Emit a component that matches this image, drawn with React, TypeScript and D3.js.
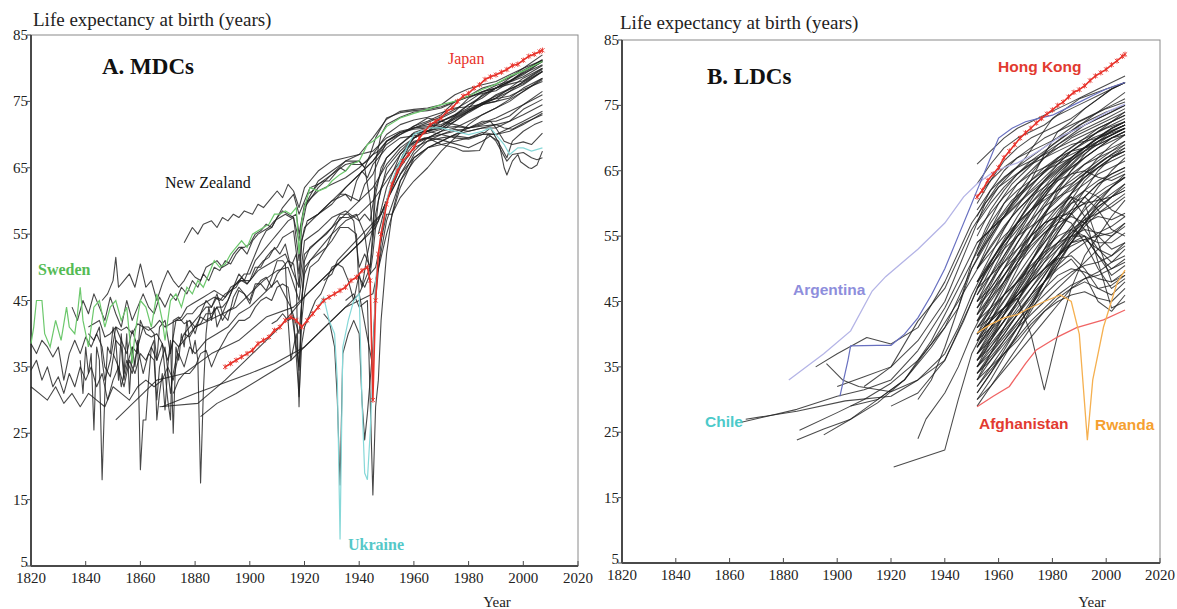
import React from 'react';
import * as d3 from 'd3';

type Pt = [number, number];

// ---------- Panel A: more developed countries (year, life expectancy) ----------
const sweden: Pt[] = [[1820,38.5],[1821,41],[1822,45],[1824,45],[1825,40],[1827,38],[1829,42],[1831,39],[1833,44],[1834,41],[1836,40],[1837,43],[1838,47],[1839,42],[1841,38],[1843,44],[1845,45],[1847,41],[1849,44],[1851,45],[1853,42],[1855,44],[1857,35.5],[1858,40],[1860,45],[1862,44],[1864,41],[1866,46],[1868,42],[1869,39],[1871,45],[1873,46],[1875,44],[1877,47],[1879,46],[1881,48],[1883,47],[1885,49],[1887,51],[1889,50],[1891,50.5],[1893,52],[1895,53],[1897,54],[1899,53],[1901,55],[1903,55.5],[1905,56],[1907,56.5],[1909,58],[1911,58],[1913,58.5],[1915,58],[1917,59],[1918,52],[1919,57],[1920,59],[1922,62],[1925,61.5],[1928,62],[1930,63],[1933,64],[1935,64.5],[1937,65.5],[1940,66],[1943,68.5],[1945,69],[1948,70],[1950,71.2],[1955,72.5],[1960,73.2],[1965,73.8],[1970,74.5],[1975,75],[1980,75.8],[1985,76.8],[1990,77.6],[1995,78.8],[2000,79.6],[2007,81]];

const japan: Pt[] = [[1891,35],[1893,35.5],[1895,36],[1897,36.5],[1899,37],[1901,37.5],[1903,38.5],[1905,39],[1907,39.5],[1909,40.5],[1911,41],[1913,42],[1915,42.5],[1917,42],[1919,41],[1921,42],[1923,43],[1925,44],[1927,45],[1929,45.5],[1931,46],[1933,46.5],[1935,47],[1937,48],[1939,48.5],[1941,49.5],[1943,50],[1944,48],[1945,30],[1946,45],[1947,52],[1948,55],[1950,59.5],[1952,62.5],[1954,64.5],[1956,66],[1958,67],[1960,68],[1962,69.5],[1964,70.5],[1966,71.5],[1968,72],[1970,72.5],[1972,73.5],[1974,74],[1976,75],[1978,75.8],[1980,76.2],[1982,77],[1984,77.5],[1986,78.3],[1988,78.7],[1990,79],[1992,79.4],[1994,79.8],[1996,80.4],[1998,80.6],[2000,81.2],[2002,81.8],[2004,82.1],[2006,82.5],[2007,82.7]];

const ukraine: Pt[] = [[1925,44],[1927,45.5],[1929,42],[1931,40],[1932,33],[1933,9],[1934,38],[1936,42],[1938,45],[1940,46],[1941,30],[1942,19],[1943,18],[1944,25],[1945,35],[1946,48],[1948,55],[1950,60],[1952,63],[1955,66],[1958,68.5],[1960,70],[1965,71],[1970,71],[1975,70.5],[1980,70],[1985,70.5],[1988,71],[1990,70],[1993,68.5],[1995,67],[1998,68],[2000,68],[2003,67.5],[2007,68]];

const newZealand: Pt[] = [[1876,53.7],[1879,56],[1881,55],[1883,56.5],[1886,57],[1888,56],[1890,57.5],[1892,57],[1894,58],[1896,57.5],[1898,58.5],[1901,58],[1903,59.5],[1905,59],[1908,60.5],[1910,61.5],[1912,60.5],[1914,62.5],[1916,61.5],[1918,59],[1920,62],[1922,63],[1925,64.5],[1930,66],[1935,66.5],[1940,67],[1945,67.5],[1950,69.5],[1955,70.5],[1960,71],[1965,71.2],[1970,71.5],[1975,72.5],[1980,73.5],[1985,74.5],[1990,75.5],[1995,77],[2000,78.5],[2007,80]];

const denmark: Pt[] = [[1835,44],[1837,42],[1839,45],[1841,43],[1843,46],[1845,44],[1847,42],[1849,45.5],[1851,43],[1853,41],[1855,45],[1857,42],[1859,44],[1861,46],[1863,44],[1865,43],[1867,45.5],[1869,44],[1871,46],[1873,45],[1875,47],[1877,46],[1879,48],[1881,47],[1883,49],[1885,48],[1887,50],[1889,49.5],[1891,51],[1893,50.5],[1895,52],[1897,53],[1899,52],[1901,54],[1903,55],[1905,55.5],[1907,56],[1909,57],[1911,57.5],[1913,58],[1915,57.5],[1917,58],[1918,55],[1920,59.5],[1925,61.5],[1930,62.5],[1935,63.5],[1940,65],[1945,67],[1950,70],[1955,71.5],[1960,72.2],[1965,72.6],[1970,73.3],[1975,74],[1980,74.2],[1985,74.6],[1990,75],[1995,75.5],[2000,77],[2007,78.5]];

const england: Pt[] = [[1841,41],[1843,41.5],[1845,42],[1847,39.5],[1849,40],[1851,41],[1853,40.5],[1855,41],[1857,40],[1859,41.5],[1861,41],[1863,40.5],[1865,41],[1867,42],[1869,41],[1871,41.5],[1873,42],[1875,42.5],[1877,44],[1879,44.5],[1881,45],[1883,45.5],[1885,46],[1887,46.5],[1889,46],[1891,45.5],[1893,47],[1895,47.5],[1897,48],[1899,47.5],[1901,48.5],[1903,50],[1905,51],[1907,51.5],[1909,53],[1911,52],[1913,53.5],[1915,50],[1917,52],[1918,47],[1919,54],[1921,57],[1925,58],[1930,60],[1935,61],[1940,60],[1942,62.5],[1945,64],[1950,69],[1955,70.3],[1960,71],[1965,71.5],[1970,72],[1975,72.8],[1980,73.8],[1985,74.8],[1990,75.8],[1995,76.8],[2000,77.9],[2007,79.5]];

const france: Pt[] = [[1820,38.5],[1822,37],[1824,39],[1826,38],[1828,36.5],[1830,38],[1832,33],[1834,37],[1836,39],[1838,37],[1840,39.5],[1842,38],[1844,40],[1846,38],[1847,35],[1849,33.5],[1851,39],[1853,38],[1854,33],[1855,35],[1857,38],[1859,37],[1860,42],[1862,40],[1864,39.5],[1866,40],[1868,38.5],[1870,30],[1871,27],[1872,42],[1874,42.5],[1876,41.5],[1878,42],[1880,41],[1882,42.5],[1884,42],[1886,42.5],[1888,44],[1890,42],[1892,43.5],[1894,44],[1896,46.5],[1898,46],[1900,45],[1902,47.5],[1904,47.5],[1906,46.5],[1908,48.5],[1910,51],[1912,51],[1913,50.5],[1914,42],[1915,36],[1916,38],[1917,40],[1918,34.5],[1919,45],[1920,51],[1922,53],[1925,54],[1928,55],[1930,56],[1933,58],[1936,58],[1938,57],[1940,50],[1942,52],[1944,50],[1946,61],[1948,65],[1950,66.5],[1955,68.5],[1960,70.3],[1965,71],[1970,72],[1975,73],[1980,74.5],[1985,75.5],[1990,77],[1995,78],[2000,79],[2005,80.5],[2007,81]];

const iceland: Pt[] = [[1838,36],[1839,31],[1840,38],[1841,34],[1842,37],[1843,25.5],[1844,38],[1845,36],[1846,18],[1847,31],[1848,38],[1849,37],[1850,41],[1851,39],[1852,33],[1853,40],[1854,34],[1855,40],[1856,31],[1857,38],[1858,35],[1859,39],[1860,19.5],[1861,27],[1862,27],[1863,33],[1864,38],[1865,39],[1866,27],[1867,31],[1868,34],[1869,28.5],[1870,35],[1871,39],[1872,25],[1873,38],[1874,36],[1875,40],[1876,38],[1877,42],[1878,39],[1879,37],[1880,39],[1881,36],[1882,17.5],[1883,31],[1884,40],[1885,44],[1886,42],[1887,44],[1888,41],[1890,43],[1892,45],[1894,47],[1896,49],[1898,48],[1900,50],[1902,52],[1904,54],[1906,55.5],[1908,56],[1910,57.5],[1912,59],[1914,60],[1916,61],[1918,58],[1920,60],[1922,62],[1925,62.5],[1930,64],[1935,66],[1940,67],[1945,69.5],[1950,72.3],[1955,73.5],[1960,73.8],[1965,74],[1970,74.5],[1975,76],[1980,76.9],[1985,77.5],[1990,78],[1995,79],[2000,80],[2007,81.2]];

const norway: Pt[] = [[1846,45],[1848,46],[1850,48],[1851,51.5],[1852,47],[1854,48],[1856,49],[1858,47],[1860,50.5],[1862,47],[1864,48],[1866,45],[1868,47.5],[1870,49.5],[1872,48],[1874,47],[1876,48],[1878,49.5],[1880,48.5],[1882,48],[1884,50],[1886,50.5],[1888,51],[1890,50],[1892,50.5],[1894,52],[1896,53],[1898,53],[1900,53.5],[1902,55],[1904,55.5],[1906,56.5],[1908,56],[1910,57.5],[1912,58.5],[1914,58],[1916,57.5],[1918,54],[1919,57],[1920,59],[1925,62],[1930,64],[1935,65.5],[1940,66],[1942,65],[1944,67],[1946,69.5],[1950,72.5],[1955,73.3],[1960,73.6],[1965,73.8],[1970,74.2],[1975,75],[1980,75.7],[1985,76.2],[1990,76.6],[1995,77.9],[2000,78.7],[2007,80.4]];

const netherlands: Pt[] = [[1850,37],[1852,35],[1853,32],[1855,36],[1857,34],[1859,38],[1861,34],[1863,37],[1865,36],[1866,30],[1867,35],[1869,38],[1871,31],[1872,34],[1874,38],[1876,39],[1878,40],[1880,41],[1882,41.5],[1884,43],[1886,43],[1888,44],[1890,44],[1892,45],[1894,47],[1896,48],[1898,49],[1900,49],[1902,51],[1904,52],[1906,53],[1908,54],[1910,55],[1912,56],[1914,57],[1916,57.5],[1918,51],[1919,56],[1921,60],[1925,63],[1930,64.5],[1935,66],[1940,66],[1942,65],[1944,60],[1945,55],[1946,66],[1948,70],[1950,71.5],[1955,72.6],[1960,73.4],[1965,73.6],[1970,74],[1975,74.9],[1980,75.7],[1985,76.4],[1990,77],[1995,77.6],[2000,78.1],[2007,80]];

const belgium: Pt[] = [[1841,40],[1843,39],[1845,41],[1846,36],[1847,33],[1849,36],[1851,41],[1853,39],[1855,37],[1857,40.5],[1859,38],[1861,41],[1863,41],[1865,40],[1866,36],[1867,41],[1869,42],[1871,37],[1873,42],[1875,42],[1877,43],[1879,43],[1881,44],[1883,44.5],[1885,45],[1887,45.5],[1889,45],[1891,46],[1893,46.5],[1895,47],[1897,48.5],[1899,47.5],[1901,48.5],[1903,49.5],[1905,50],[1907,50.5],[1909,51],[1911,51.5],[1913,52],[1915,50],[1918,47],[1920,54],[1925,55.5],[1930,57.5],[1935,58.5],[1940,57],[1942,58],[1944,57],[1946,62],[1950,66.5],[1955,68.5],[1960,70.1],[1965,70.6],[1970,71],[1975,72],[1980,73.3],[1985,74.5],[1990,76],[1995,76.9],[2000,77.7],[2007,79.5]];

const finland: Pt[] = [[1878,42],[1880,40],[1882,43],[1884,45],[1886,44],[1888,46],[1890,43],[1892,42],[1894,45.5],[1896,47],[1898,46],[1900,44.5],[1902,47],[1904,48],[1906,48.5],[1908,47],[1910,49],[1912,50],[1914,51],[1916,50.5],[1917,48],[1918,29],[1919,45],[1920,49],[1922,51],[1925,52],[1928,53],[1930,54],[1933,56],[1936,56],[1939,55],[1940,46],[1941,47],[1942,48],[1944,50],[1946,58],[1948,62],[1950,64],[1955,67],[1960,69],[1965,69.5],[1970,70.5],[1975,72],[1980,73.5],[1985,74.5],[1990,75],[1995,76.5],[2000,77.5],[2007,79.5]];

const italy: Pt[] = [[1872,31],[1874,33],[1876,34],[1878,34],[1880,35],[1882,37],[1884,37.5],[1886,35],[1888,37],[1890,38.5],[1892,40],[1894,41],[1896,42],[1898,42],[1900,42.5],[1902,44],[1904,45],[1906,45.5],[1908,45],[1910,47],[1912,47.5],[1914,47],[1916,41],[1918,35],[1919,42],[1920,46],[1922,50],[1925,51],[1928,53],[1930,55],[1933,57.5],[1936,57.5],[1939,58],[1942,55],[1944,49],[1945,52],[1947,60],[1950,65],[1955,67.5],[1960,69.5],[1965,70.5],[1970,72],[1975,73],[1980,74],[1985,76],[1990,77],[1995,78.5],[2000,79.7],[2007,81.2]];

const spain: Pt[] = [[1908,41.5],[1910,42],[1912,43],[1914,42],[1916,42.5],[1918,30.5],[1919,38.5],[1920,41],[1922,43],[1924,45],[1926,46],[1928,48],[1930,50],[1932,50.5],[1934,50],[1936,48],[1938,45],[1940,49],[1941,47],[1943,52],[1945,56],[1947,57],[1950,62],[1955,67],[1960,69.5],[1965,71],[1970,72.5],[1975,73.5],[1980,75.5],[1985,76.5],[1990,77],[1995,78],[2000,79.3],[2007,81]];

const portugal: Pt[] = [[1940,48.5],[1942,47],[1944,49],[1946,50],[1948,54],[1950,58],[1952,58],[1955,60.5],[1960,63],[1965,65],[1970,67.5],[1975,69.5],[1980,71.5],[1985,73],[1990,74],[1995,75.3],[2000,76.5],[2007,78.5]];

const bulgaria: Pt[] = [[1947,55],[1950,60],[1953,64],[1956,67],[1960,69.5],[1965,70.5],[1970,71],[1975,71.2],[1980,71],[1985,71.3],[1990,71.5],[1993,71],[1996,70.8],[2000,71.7],[2007,73]];

const taiwanLike: Pt[] = [[1935,45],[1938,46],[1940,44],[1943,45],[1945,15.7],[1946,29],[1947,33],[1948,42],[1950,52],[1952,58],[1955,63],[1960,67],[1965,69],[1970,69.5],[1975,69.8],[1980,69.5],[1985,70],[1990,70],[1995,71],[2000,72],[2007,73.5]];

const russia: Pt[] = [[1959,68.5],[1961,69],[1964,69.5],[1966,69.3],[1970,68.5],[1975,68],[1978,67.5],[1980,67.5],[1984,67.6],[1987,70],[1989,69.5],[1991,69],[1993,65],[1994,63.9],[1996,66],[1998,67],[1999,65.9],[2002,65],[2003,64.9],[2005,65.4],[2007,67.5]];

const belarus: Pt[] = [[1959,71],[1965,72.5],[1970,72],[1975,71.5],[1980,71],[1985,71.5],[1988,72],[1990,71],[1993,69],[1996,68.5],[2000,68.9],[2003,68.5],[2007,70.2]];

const latvia: Pt[] = [[1959,70],[1965,70.5],[1970,70],[1975,69.5],[1980,69.3],[1985,70],[1988,71],[1990,69.5],[1994,66.5],[1996,69],[2000,70.5],[2004,71.5],[2007,72]];

const poland: Pt[] = [[1927,48],[1930,49],[1932,51],[1948,58],[1950,60],[1955,64],[1960,67.5],[1965,69.5],[1970,70],[1975,70.8],[1980,70.5],[1985,71],[1990,71],[1995,72],[2000,73.8],[2007,75.3]];

const usa: Pt[] = [[1933,61],[1935,61],[1937,60],[1939,63],[1941,64.5],[1943,63.5],[1945,65.5],[1947,66.5],[1950,68],[1955,69.5],[1960,69.8],[1965,70.2],[1970,70.8],[1975,72.6],[1980,73.7],[1985,74.7],[1990,75.4],[1995,75.8],[2000,76.8],[2007,78]];

const australia: Pt[] = [[1921,61],[1923,61.5],[1925,62.5],[1927,63],[1929,63],[1931,64],[1933,65],[1935,64.5],[1937,65.5],[1939,65.5],[1941,65.5],[1943,66],[1945,67],[1947,67.5],[1950,69],[1955,70.3],[1960,70.8],[1965,71],[1970,71.2],[1975,72.8],[1980,74.5],[1985,75.8],[1990,77],[1995,78],[2000,79.5],[2007,81.3]];

const canada: Pt[] = [[1921,57],[1925,58],[1930,59.5],[1935,62],[1940,64],[1945,66],[1950,68.5],[1955,70],[1960,71],[1965,71.8],[1970,72.7],[1975,73.8],[1980,75],[1985,76.4],[1990,77.4],[1995,78.1],[2000,79.2],[2007,80.5]];

const switzerland: Pt[] = [[1876,40],[1878,41],[1880,42],[1882,43],[1884,44],[1886,44],[1888,45.5],[1890,45],[1892,46],[1894,47],[1896,48],[1898,48],[1900,48],[1902,50],[1904,50],[1906,51.5],[1908,52.5],[1910,53],[1912,54.5],[1914,55],[1916,55.5],[1918,49],[1919,54],[1920,56],[1925,58],[1930,60],[1935,62],[1940,64],[1945,66],[1950,69],[1955,70],[1960,71.3],[1965,72],[1970,73],[1975,75],[1980,75.8],[1985,77],[1990,77.6],[1995,78.6],[2000,80],[2007,82]];

const scotland: Pt[] = [[1820,34.5],[1822,36],[1824,33],[1826,35],[1828,32],[1830,33.5],[1832,31],[1834,34],[1836,32],[1838,35],[1840,33],[1842,35],[1844,32],[1846,34],[1848,30],[1850,33],[1852,35],[1854,32],[1856,36],[1858,34],[1860,37],[1862,36],[1864,38],[1866,36],[1868,38.5],[1870,36],[1872,39],[1874,38],[1876,40],[1878,39.5],[1880,41],[1885,42],[1890,43],[1895,44],[1900,46],[1905,48],[1910,49.5],[1914,50],[1918,45],[1920,52],[1925,54],[1930,56],[1935,58],[1940,60],[1945,62],[1950,65.5],[1955,68],[1960,69.5],[1965,70.5],[1970,71.3],[1975,72.3],[1980,73.5],[1985,74.8],[1990,75.5],[1995,76.5],[2000,78],[2007,79.8]];

const austria: Pt[] = [[1820,32],[1823,31],[1826,30],[1829,32],[1832,29.5],[1835,31],[1838,29],[1841,31],[1844,30],[1847,29],[1850,32],[1853,31],[1856,30],[1859,32],[1862,33],[1865,32],[1868,33],[1870,35],[1872,33],[1874,37],[1876,35],[1878,38],[1880,37],[1884,39],[1888,40],[1892,41],[1896,43],[1900,44],[1905,46],[1910,48],[1915,44],[1918,40],[1920,50],[1925,52.5],[1930,55],[1935,57],[1940,58],[1945,60],[1950,63],[1955,66],[1960,68.5],[1965,69.5],[1970,70.5],[1975,71],[1980,72],[1985,73],[1990,74],[1995,75],[2000,76.5],[2007,78.3]];

const greece: Pt[] = [[1867,29],[1881,29.5],[1891,33],[1901,37],[1911,41],[1921,46],[1931,50],[1941,54],[1948,58],[1955,65],[1960,68],[1970,70],[1980,71],[1990,72.5],[2000,74.5],[2007,76.5]];

const hungary: Pt[] = [[1851,27],[1856,29],[1861,31],[1866,33],[1876,34],[1886,37],[1896,39],[1906,42.5],[1916,44],[1926,48],[1936,52],[1946,56],[1950,60],[1955,64],[1960,66.5],[1965,68],[1970,68.5],[1975,69],[1980,69.5],[1985,70.3],[1990,70],[1995,70.5],[2000,71.5],[2007,73.2]];

const czechia: Pt[] = [[1882,27.5],[1888,29.5],[1895,31],[1905,33.5],[1915,36],[1925,40],[1930,42],[1935,44],[1940,45],[1945,46],[1947,50],[1950,57],[1955,63],[1960,66],[1965,68],[1970,69],[1975,70],[1980,71],[1985,72],[1990,72],[1995,72.8],[2000,74.5],[2007,76]];

const slovakia: Pt[] = [[1868,29],[1880,31],[1890,32.5],[1900,34],[1909,35.5],[1920,38],[1930,42],[1940,46],[1945,35],[1946,48],[1950,55],[1955,62],[1960,66.5],[1965,68],[1970,69],[1975,70],[1980,70.5],[1985,71],[1990,71.5],[1995,72],[2000,73],[2007,74.5]];

const estonia: Pt[] = [[1927,43],[1929,42],[1931,38],[1932,30],[1933,17.2],[1934,37],[1936,40],[1938,42],[1940,40],[1941,30],[1942,24],[1943,28],[1945,38],[1946,45],[1948,54],[1950,60],[1955,65.5],[1958,68],[1960,68.8],[1965,69.5],[1970,69.2],[1975,68.6],[1980,68],[1985,69],[1988,69.8],[1990,69],[1994,66],[1996,67],[2000,67.3],[2003,66.5],[2005,66.2],[2007,66.5]];

const mdcBlack: Pt[][] = [newZealand, denmark, england, france, iceland, norway, netherlands, belgium, finland, italy, spain, portugal, bulgaria, taiwanLike, russia, belarus, latvia, poland, usa, australia, canada, switzerland, scotland, austria, greece, hungary, czechia, slovakia, estonia];

// ---------- Panel B: less developed countries ----------
const hongKong: Pt[] = [[1952,61],[1954,62],[1956,63.5],[1958,64.5],[1960,65.5],[1962,67],[1964,68],[1966,69],[1968,70],[1970,70.8],[1972,71.5],[1974,72.3],[1976,73],[1978,73.7],[1980,74.3],[1982,75],[1984,75.5],[1986,76.3],[1988,77],[1990,77.4],[1992,78],[1994,78.8],[1996,79.5],[1998,80],[2000,80.5],[2002,81.2],[2004,81.8],[2006,82.5],[2007,82.8]];

const argentina: Pt[] = [[1882,33],[1895,37],[1905,40.5],[1913,46.6],[1918,48.8],[1930,53],[1940,57],[1947,61],[1952,63],[1957,64.5],[1962,65.5],[1967,66.2],[1972,67.3],[1977,68.6],[1982,70],[1987,71],[1992,72],[1997,73.2],[2002,74.3],[2007,75.2]];

const uruguay: Pt[] = [[1901,30.5],[1904,36],[1905,38.2],[1915,38.3],[1920,38.3],[1925,40],[1930,42.5],[1935,46],[1940,50],[1945,55],[1950,60],[1952,62],[1956,66],[1960,70],[1965,71.5],[1970,72.5],[1975,73],[1980,73.5],[1985,74.5],[1990,75.5],[1995,76.5],[2000,77.5],[2007,78.5]];

const afghanistan: Pt[] = [[1952,28.9],[1958,30.5],[1964,32],[1970,35.5],[1974,37.6],[1982,39.6],[1989,41],[1999,42.2],[2007,43.7]];

const rwanda: Pt[] = [[1952,40.2],[1957,41.5],[1962,42.5],[1967,43],[1970,43.7],[1977,45],[1983,46],[1987,45],[1990,40],[1993,23.8],[1995,33],[1999,41.1],[2004,47.8],[2007,49.8]];

const chile: Pt[] = [[1864,26.5],[1885,28.5],[1900,30.5],[1910,31.5],[1920,33],[1930,37.5],[1940,44],[1952,54],[1957,56],[1962,58],[1967,60.5],[1972,63.5],[1977,67.5],[1982,71],[1987,72.5],[1992,74.5],[1997,76],[2002,77.5],[2007,78.5]];

const ldcEarly: Pt[][] = [
  [[1866,27],[1885,28.2],[1903,29.8],[1920,30.5],[1930,33],[1940,37],[1945,41],[1950,46],[1955,50],[1960,53],[1965,55.5],[1970,58],[1975,60.5],[1980,63],[1985,65],[1990,67],[1995,68.5],[2000,70],[2007,71.5]],
  [[1892,35],[1900,37],[1911,39.5],[1920,38.5],[1930,41],[1940,48],[1950,57],[1955,60],[1960,62.5],[1970,65.5],[1980,68.5],[1990,71],[2000,73],[2007,74.5]],
  [[1896,35.5],[1902,33],[1908,32],[1920,31.2],[1930,33],[1940,36],[1947,42],[1952,47],[1957,50.5],[1962,53.5],[1967,56],[1972,58.5],[1977,61],[1982,63.5],[1987,65.5],[1992,67],[1997,68.5],[2002,69.5],[2007,70.5]],
  [[1886,25.3],[1900,28],[1910,30],[1920,32.5],[1930,36],[1940,41],[1950,50],[1960,57],[1970,61],[1980,64.5],[1990,68],[2000,71],[2007,72.5]],
  [[1885,23.8],[1895,25.5],[1905,27],[1915,30],[1925,33],[1935,39],[1945,47],[1955,55],[1965,60.5],[1975,64],[1985,67.5],[1995,70],[2007,72]],
  [[1895,24.6],[1905,27],[1915,29.5],[1925,33],[1935,38.5],[1945,45],[1955,52],[1965,58],[1975,62.5],[1985,66],[1995,69],[2007,71.5]],
  [[1921,19.7],[1940,22.3],[1945,30],[1950,37],[1955,41],[1960,44],[1965,47],[1970,50],[1975,53],[1980,55.5],[1985,57.5],[1990,59.5],[1995,61],[2000,62.5],[2007,64]],
  [[1930,24],[1933,27],[1940,31],[1945,35],[1950,40],[1955,44],[1960,47.5],[1965,51],[1970,54],[1975,57],[1980,60],[1985,62],[1990,64],[1995,65.5],[2000,67],[2007,68]],
  [[1900,32],[1910,33.5],[1920,35],[1930,39],[1940,45],[1950,55],[1955,60],[1960,63],[1965,65],[1970,66.5],[1975,68],[1980,69.5],[1985,71],[1990,72.5],[1995,73.5],[2000,74.5],[2007,75.5]],
  [[1905,29],[1915,30],[1925,33],[1935,38],[1945,44],[1950,50],[1955,54],[1960,57.5],[1965,60],[1970,62],[1975,64],[1980,66],[1985,68],[1990,69.5],[1995,70.5],[2000,71.5],[2007,72.5]],
  [[1910,32],[1920,35],[1930,42],[1940,47],[1950,56],[1960,62.5],[1970,67],[1980,73],[1990,76],[2000,77.5],[2007,78.5]],
  [[1920,29],[1930,31],[1940,36],[1950,45],[1955,49.5],[1960,53],[1965,56],[1970,59],[1975,61.5],[1980,64],[1985,66],[1990,68],[1995,69.5],[2000,70.5],[2007,71.5]],
  [[1930,30],[1935,33],[1940,38],[1945,44],[1950,51],[1955,56],[1960,60],[1965,63],[1970,65],[1975,67],[1980,69],[1985,70.5],[1990,72],[1995,73],[2000,74],[2007,75]],
];

// UN five-year estimates from 1950-55 onwards
const ldcYears = [1952, 1957, 1962, 1967, 1972, 1977, 1982, 1987, 1992, 1997, 2002, 2007];
const ldcLines: number[][] = [
  [66,68,70,71.5,72.5,73.5,74.5,75.5,76.5,77.5,78.5,79.5],
  [63,66,68.5,70,71,72,73.5,74.5,75.5,76.5,77.5,78.5],
  [60,63.5,66.5,68.5,70,71,72,73,74.5,76,77.5,78.5],
  [58,62,65,67,68.5,70,71,72,73,74,75,76],
  [55,59,62,64.5,66.5,68,69.5,71,72.5,74,75.5,77],
  [52,56,60,63,65,67,68.5,70,71,72,73,74],
  [50,54.5,58,61.5,64.5,67,69,70.5,72,73,74,75],
  [48,52,56,59.5,62.5,65,67,68.5,70,71.5,72.5,73.5],
  [47,51,54.5,58,61,63.5,65.5,67,68.5,70,71.5,72.5],
  [45,49,53,57,60.5,63.5,66,68,69.5,71,72,73],
  [43,47.5,51.5,55,58.5,61.5,64,66.5,68.5,70,71.5,72.5],
  [42,46,50,54,57.5,61,64,66,68,69.5,70.5,71.5],
  [40,44,48,52,56,59.5,62.5,65,67,68.5,70,71],
  [38,42,46,50,54,58,62,65,67.5,69.5,71,72],
  [37,40.5,44,47.5,51,54.5,58,61.5,64.5,67,69,70.5],
  [36,39.5,43,46.5,50,53,56,59,62,65,67,68.5],
  [41,44,47.5,51,54,57,59.5,61.5,63,64.5,65.5,66.5],
  [38,41,44,46.5,49.5,52.5,55.5,58.5,61,63,64.5,65.5],
  [37,39,42,45,48,51,54,56.5,59,61,62.5,64],
  [35,38,41,44,47,50,53,55.5,58,60,61.5,63],
  [33,36,39,42,45,48,51,54,57,59.5,61,62.5],
  [31,34,37,40,43.5,47,50.5,54,57,60,62.5,64.5],
  [30,33,36.5,40,44,48,52,56,59.5,62.5,65,67],
  [44,48,52,55,57.5,59.5,61,62,64,65.5,67,68],
  [50,53.5,56.5,59,61,62.5,64,65.5,67,68.5,70,71],
  [53,57,60,62,63.5,65,66,67,68.5,70,71,72],
  [57,60,62.5,64.5,66,67,68,69,69.5,70,71,72],
  [46,50,54,57,59,61,62,63,64.5,66,67.5,69],
  [38,40.5,43,45.5,48,50,51.5,52,50,47,46,48],
  [36,38.5,41,43.5,46,48,50,51.5,49,45,43.5,46],
  [40,42,44,46,48,50,52,54,55,52,49,50.5],
  [48,50.5,53,55,56.5,58,59.5,61,58,51,44,45],
  [44,46.5,49,51.5,54,56.5,59,61,60,54,48,49.5],
  [34,36.5,39,41.5,44,46,48,49.5,50.5,51,52,53.5],
  [32,34.5,37,39.5,42,44,46,47.5,48.5,49,50,51.5],
  [35,37,39.5,42,44.5,47,49,50,49.5,48.5,48,49],
  [37,39.5,42,44.5,47,49.5,52,54,54.5,53,52,54],
  [39,42,45,48,50.5,52.5,54,55,55,54,54,55.5],
  [41,43.5,46,48,50,52,54,56,57.5,58.5,59.5,61],
  [33,35,37,39,41.5,43.5,45,46,46.5,45.5,45,47],
  [30,32,34.5,37,39.5,42,44.5,47,48,47,47.5,49],
  [29,32,35,38,41,43.5,45.5,47,48.5,49.5,51,53],
  [31,34,37.5,41,44.5,48,51,54,56.5,58.5,60,61.5],
  [43,45.5,48,50.5,53,55.5,57.5,59,60,60.5,61,62],
  [45,48,51,54,57,60,62.5,64.5,66,67,68,69],
  [39,43,47,51,55,58.5,61.5,64,66,67.5,68.5,69.5],
  [35,39,43,47,51,55,58.5,61.5,64,66,67.5,68.5],
  [33,37,41,45,49,53,57,60.5,63.5,65.5,67,68],
  [40,42,44,45.5,40,31.5,40,47,52,55,58,60.5],
  [47,49,51,53,55,57,58,58.5,56,53,51,52],
  [56,58.5,61,63,64.5,65.5,66.5,67.5,68.5,69.5,70.5,71.5],
  [61,63.5,65.5,67,68,69,70,71,72,73,74,75],
  [59,62,64,65.5,66.5,67.5,68.5,69.5,70.5,71.5,72.5,73.5],
  [42,45,48,51,53.5,55.5,57,58,57,55,53,54],
  [36,39,42,45,48.5,52,55.5,58.5,61,63,64,65],
  [34,36,38.5,41,43,45,47,49,51,53,55,57],
  [45,47,50,52,54,56,58,60,61,59,56,55],
  [38,41,44,47,50,53,55,56,55,52,50,51],
  [42,44,46,48,51,54,57,60,62,63.5,64.5,65.5],
  [48,51,54,57,60,62,63.5,64.5,65,64,63.5,64.5],
  [40,43,46,49,52,55,58,60.5,62,61,59,58],
  [36,38,40.5,43,45.5,48,50.5,52.5,54,55.5,56.5,58],
  [44,47,50,53,56,58.5,60.5,62.5,64,65.5,66.5,67.5],
  [50,52.5,55,57,59,60.5,62,63.5,65,66.5,68,69.5],
  [35,37.5,40,43,46,49,52,54.5,57,59,61,63],
  [39,41,43.5,46,48.5,51,53,55,56,55.5,55,56.5],
  [46,49,52,55.5,59,62,64.5,66.5,68,69,70,70.5],
  [54,56,58,60,62,64,66,68,69.5,71,72.5,74],
  [32,35,38,41,44.5,48,51.5,55,58,60.5,62.5,64],
  [43,46,49,52,55,57,58,57,54,50,47,48.5],
  [37,40,43,46,49,51.5,53.5,55.5,57,58,57.5,58.5],
  [52,55,58,61,63.5,65.5,67,68,68.5,69,70,71],
  [41,42.5,44,46,48,50,52,53.5,54.5,55,55.5,57],
  [34,37,40,43,46,49,52,55,57.5,59.5,61,62],
];

const yearTicks = [1820, 1840, 1860, 1880, 1900, 1920, 1940, 1960, 1980, 2000, 2020];
const leTicks = [5, 15, 25, 35, 45, 55, 65, 75, 85];

const serif = '"Liberation Serif", "Times New Roman", Times, serif';
const sans = '"Liberation Sans", Arial, Helvetica, sans-serif';
const W = 1177;
const H = 609;

type Scale = d3.ScaleLinear<number, number>;

function Frame({ x, y, titleX, titleY, yearX }: { x: Scale; y: Scale; titleX: number; titleY: number; yearX: number }) {
  const [xa, xb] = x.range();
  const [ya, yb] = y.range();
  return (
    <g>
      <rect x={xa} y={yb} width={xb - xa} height={ya - yb} fill="none" stroke="#8a8a8a" strokeWidth={1} />
      <line x1={xa} x2={xa} y1={yb} y2={ya} stroke="#4a4a4a" strokeWidth={2} />
      <line x1={xa} x2={xb} y1={ya} y2={ya} stroke="#4a4a4a" strokeWidth={2} />
      {leTicks.map(t => (
        <g key={t}>
          <line x1={xa - 4} x2={xa} y1={y(t)} y2={y(t)} stroke="#4a4a4a" strokeWidth={1} />
          <text x={xa - 3} y={y(t) + (t === 5 ? 1 : 5)} textAnchor="end" fontFamily={serif} fontSize={15} fill="#222">{t}</text>
        </g>
      ))}
      {yearTicks.map(t => (
        <g key={t}>
          <line x1={x(t)} x2={x(t)} y1={ya} y2={ya - 5} stroke="#4a4a4a" strokeWidth={1} />
          <text x={x(t)} y={ya + 17} textAnchor="middle" fontFamily={serif} fontSize={15} fill="#222">{t}</text>
        </g>
      ))}
      <text x={titleX} y={titleY} fontFamily={serif} fontSize={19} fill="#222">Life expectancy at birth (years)</text>
      <text x={yearX} y={607} textAnchor="middle" fontFamily={serif} fontSize={15} fill="#222">Year</text>
    </g>
  );
}

function Marked({ data, line, x, y, color }: { data: Pt[]; line: d3.Line<Pt>; x: Scale; y: Scale; color: string }) {
  const s = 2.1;
  return (
    <g>
      <path d={line(data) ?? ''} fill="none" stroke={color} strokeWidth={1.6} />
      <g stroke={color} strokeWidth={0.9}>
        {data.map((d, i) => {
          const cx = x(d[0]);
          const cy = y(d[1]);
          return (
            <path key={i} d={`M${cx - s},${cy - s}L${cx + s},${cy + s}M${cx - s},${cy + s}L${cx + s},${cy - s}M${cx},${cy - s - 0.6}L${cx},${cy + s + 0.6}`} />
          );
        })}
      </g>
    </g>
  );
}

export default function App() {
  const xA = d3.scaleLinear().domain([1820, 2020]).range([31, 578]);
  const yA = d3.scaleLinear().domain([5, 85]).range([566, 35]);
  const xB = d3.scaleLinear().domain([1820, 2020]).range([622, 1160]);
  const yB = d3.scaleLinear().domain([5, 85]).range([563, 40]);
  const lineA = d3.line<Pt>().x(d => xA(d[0])).y(d => yA(d[1]));
  const lineB = d3.line<Pt>().x(d => xB(d[0])).y(d => yB(d[1]));

  const ldcSeries: Pt[][] = ldcLines.map(vals => ldcYears.map((yr, i) => [yr, vals[i]] as Pt));

  return (
    <svg width={W} height={H} style={{ position: 'absolute', left: 0, top: 0, background: '#fff' }}>
      {/* Panel A */}
      <Frame x={xA} y={yA} titleX={33} titleY={26} yearX={497} />
      <g fill="none" stroke="#1e1e1e" strokeWidth={1.1} strokeOpacity={0.82} strokeLinejoin="round">
        {mdcBlack.map((s, i) => <path key={i} d={lineA(s) ?? ''} />)}
      </g>
      <path d={lineA(sweden) ?? ''} fill="none" stroke="#6cc86c" strokeWidth={1.2} />
      <path d={lineA(ukraine) ?? ''} fill="none" stroke="#86d8d8" strokeWidth={1.2} />
      <Marked data={japan} line={lineA} x={xA} y={yA} color="#e8322a" />
      <text x={102} y={74} fontFamily={serif} fontSize={23} fontWeight="bold" fill="#111">A. MDCs</text>
      <text x={165} y={188} fontFamily={serif} fontSize={16} fill="#111">New Zealand</text>
      <text x={448} y={64} fontFamily={serif} fontSize={16} fill="#e8322a">Japan</text>
      <text x={38} y={275} fontFamily={serif} fontSize={16} fontWeight="bold" fill="#55bb55">Sweden</text>
      <text x={348} y={550} fontFamily={serif} fontSize={16} fontWeight="bold" fill="#55c8c8">Ukraine</text>

      {/* Panel B */}
      <Frame x={xB} y={yB} titleX={620} titleY={29} yearX={1092} />
      <g fill="none" stroke="#1e1e1e" strokeWidth={1.05} strokeOpacity={0.8} strokeLinejoin="round">
        {ldcSeries.map((s, i) => <path key={i} d={lineB(s) ?? ''} />)}
        {ldcEarly.map((s, i) => <path key={'e' + i} d={lineB(s) ?? ''} />)}
        <path d={lineB(chile) ?? ''} />
      </g>
      <path d={lineB(argentina) ?? ''} fill="none" stroke="#b4b4e6" strokeWidth={1.3} />
      <path d={lineB(uruguay) ?? ''} fill="none" stroke="#6870c0" strokeWidth={1.2} />
      <path d={lineB(afghanistan) ?? ''} fill="none" stroke="#f06464" strokeWidth={1.3} />
      <path d={lineB(rwanda) ?? ''} fill="none" stroke="#f5b050" strokeWidth={1.3} />
      <Marked data={hongKong} line={lineB} x={xB} y={yB} color="#e8322a" />
      <text x={707} y={84} fontFamily={serif} fontSize={23} fontWeight="bold" fill="#111">B. LDCs</text>
      <text x={998} y={72} fontFamily={sans} fontSize={15.5} fontWeight="bold" fill="#e23a30">Hong Kong</text>
      <text x={793} y={295} fontFamily={sans} fontSize={15.5} fontWeight="bold" fill="#8e8edc">Argentina</text>
      <text x={705} y={427} fontFamily={sans} fontSize={15.5} fontWeight="bold" fill="#4ccaca">Chile</text>
      <text x={979} y={429} fontFamily={sans} fontSize={15.5} fontWeight="bold" fill="#e23a30">Afghanistan</text>
      <text x={1095} y={430} fontFamily={sans} fontSize={15.5} fontWeight="bold" fill="#f5a030">Rwanda</text>
    </svg>
  );
}
